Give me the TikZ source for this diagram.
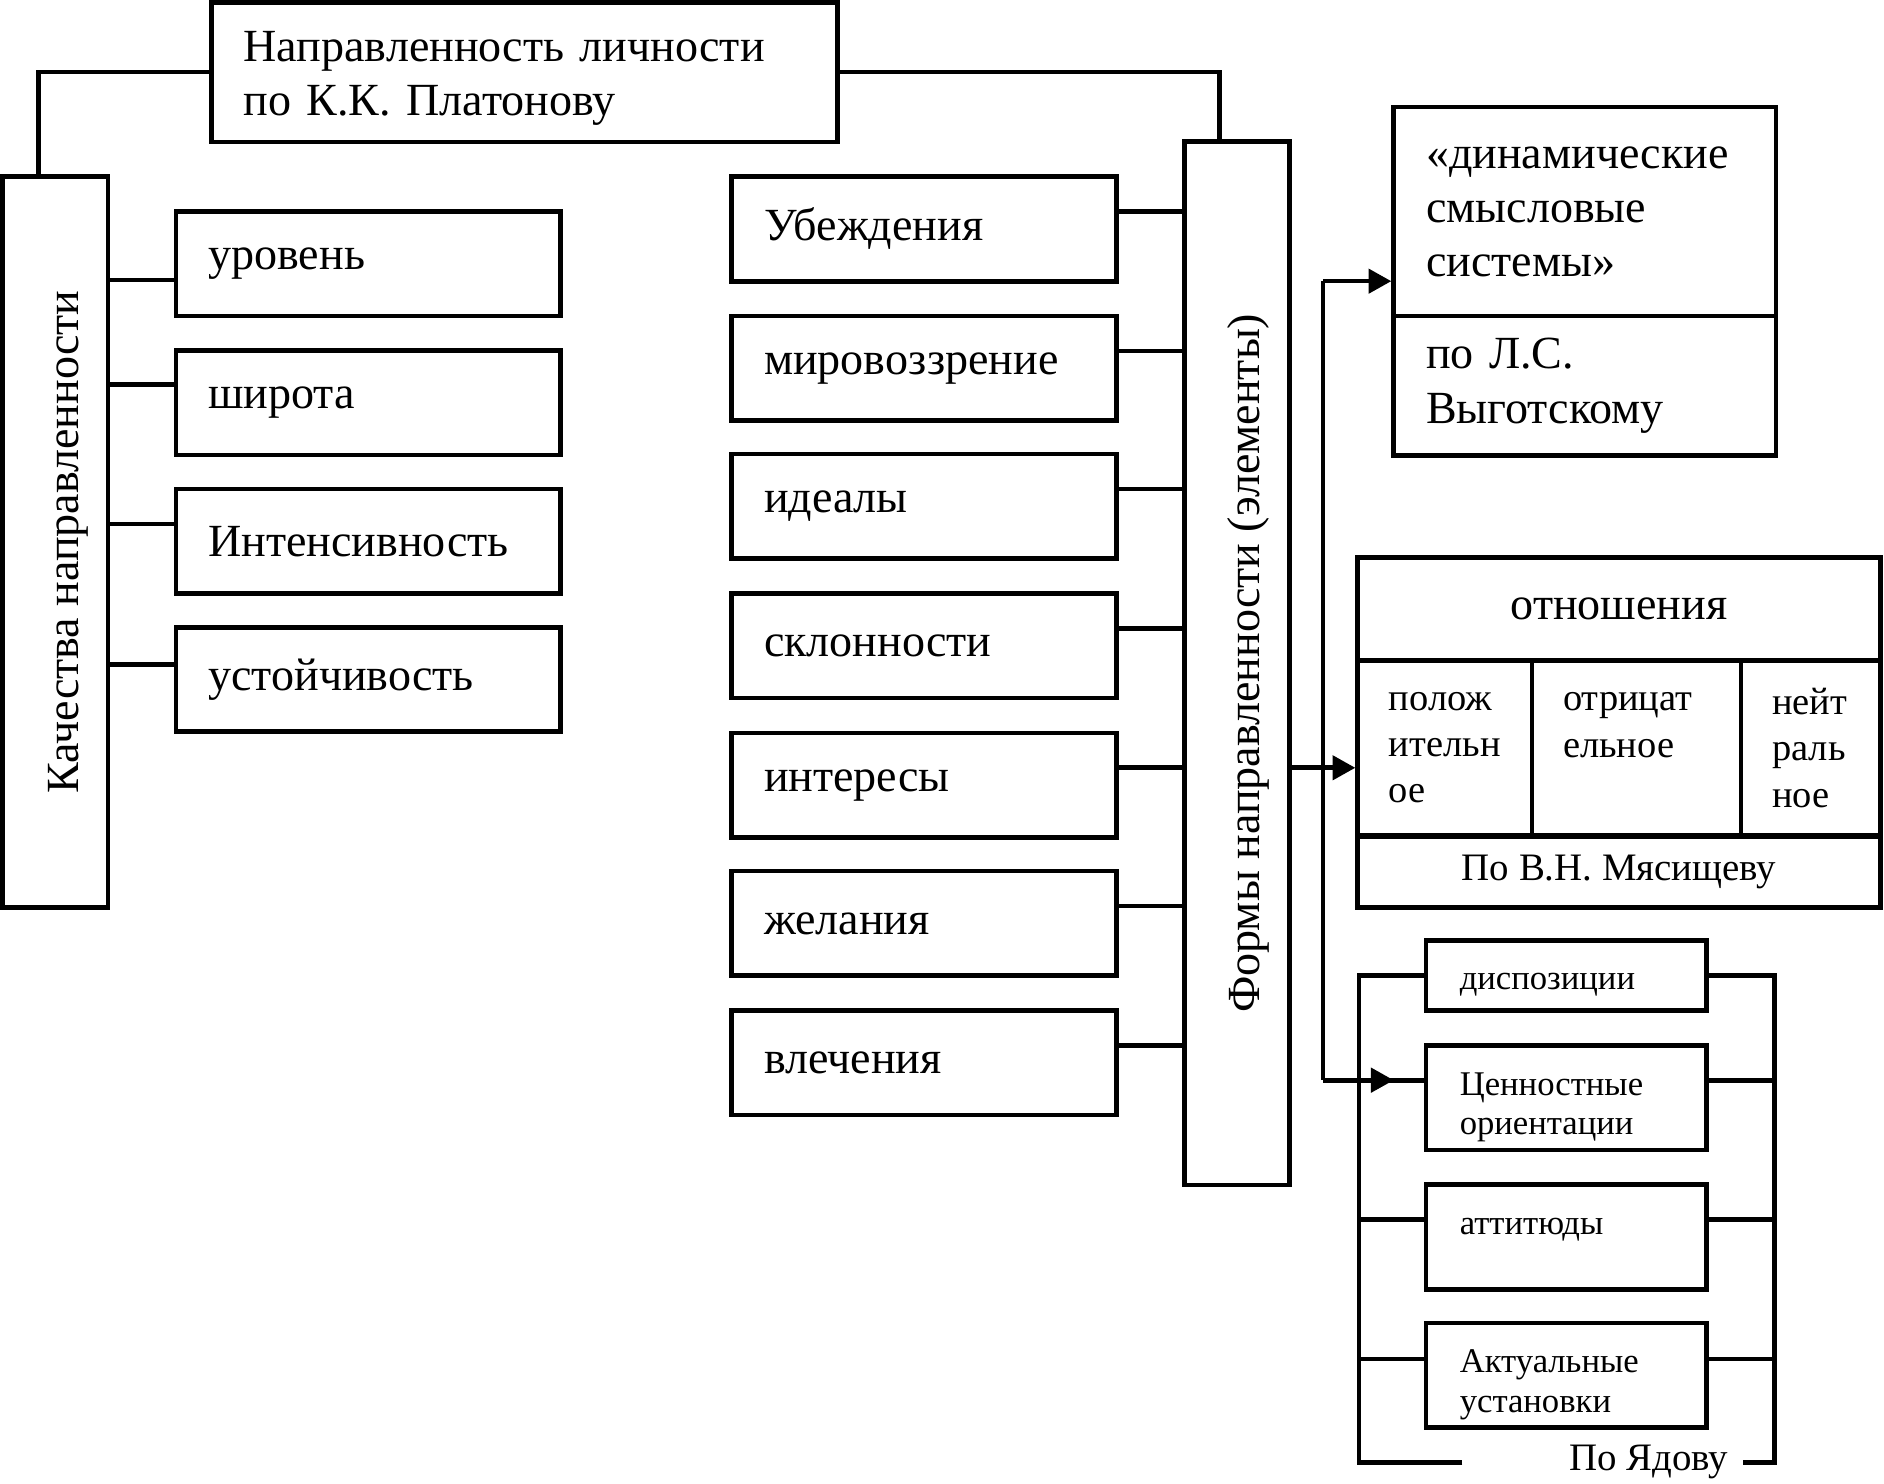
\documentclass[tikz,border=0pt]{standalone}
\usepackage{fontspec}
\setmainfont{Liberation Serif}
\usepackage{tikz}
\usetikzlibrary{arrows.meta, positioning, calc}

\begin{document}
\begin{tikzpicture}[x=0.01cm, y=-0.01cm,
    every node/.style={font=\fontsize{10.9}{12.8}\selectfont},
    box/.style={draw, line width=1.1pt, inner xsep=0.27cm, inner ysep=0pt, align=left},
    item/.style={box, text width=2.66cm, minimum height=0.87cm},
    yitem/.style={box, text width=1.77cm, inner xsep=0.28cm, minimum height=0.87cm,
      text height=5pt, text depth=6.2pt, font=\fontsize{8.2}{9.4}\selectfont},
    cell/.style={box, minimum height=1.45cm, inner xsep=0.26cm,
      font=\fontsize{9.1}{10.9}\selectfont},
    vbox/.style={draw, line width=1.1pt, rotate=90, inner sep=0pt, text depth=0pt},
    conn/.style={line width=1.1pt},
    arr/.style={conn, -{Triangle[length=0.19cm, width=0.2cm]}}]
  \useasboundingbox (0,0) rectangle (1568,1235);

  \node[box, text width=4.67cm, minimum height=1.16cm, text height=7.5pt, text depth=12.4pt] (title) at (436.5,60)
    {Направленность личности\\по К.К. Платонову};
  \node[vbox, text height=11pt, minimum width=6.08cm, minimum height=0.88cm] (kach) at (46,451) {Качества направленности};
  \node[vbox, text height=10.5pt, minimum width=8.68cm, minimum height=0.87cm] (form) at (1029.5,552) {Формы направленности (элементы)};
  \draw[conn] (title.west) -| (kach.east -| 32,0);
  \draw[conn] (title.east) -| (form.east -| 1015,0);

  \foreach \n/\y/\lbl in {ur/219.5/уровень, shir/335/широта, int/450.5/Интенсивность, ust/565.5/устойчивость}
    \node[item] (\n) at (306.5,\y) {\lbl};
  \foreach \n/\y in {ur/233, shir/320, int/436, ust/553}
    \draw[conn] (kach.south |- 0,\y) -- (\n.west |- 0,\y);

  \foreach \n/\y/\lbl in {ub/190.5/Убеждения, mir/306.5/мировоззрение, ide/421.5/идеалы, skl/537.5/склонности,
      intr/653.5/интересы, zhel/768.5/желания, vlech/884.5/влечения}
    \node[item] (\n) at (769,\y) {\lbl};
  \foreach \n/\y in {ub/176, mir/292, ide/407, skl/523, intr/639, zhel/754, vlech/870}
    \draw[conn] (\n.east |- 0,\y) -- (form.north |- 0,\y);

  \node[box, text width=2.64cm, minimum height=1.74cm] (dyn) at (1319,176)
    {«динамические\\смысловые\\системы»};
  \node[box, text width=2.64cm, minimum height=1.16cm] (vyg) at (1319,321)
    {по Л.С.\\Выготскому};

  \node[box, minimum width=4.35cm, minimum height=0.86cm, inner xsep=0pt, align=center] (otn) at (1347.5,507) {отношения};
  \node[cell, text width=0.93cm] (pol) at (1202.5,622.5) {полож\\ительн\\ое};
  \node[cell, text width=1.22cm] (otr) at (1362,622.5) {отрицат\\ельное\\\mbox{}};
  \node[cell, text width=0.64cm] (neit) at (1507,622.5) {нейт\\раль\\ное};
  \node[box, minimum width=4.35cm, minimum height=0.59cm, inner xsep=0pt, align=center,
    font=\fontsize{9.2}{11}\selectfont] (mys) at (1347.5,726) {По В.Н. Мясищеву};

  \node[yitem, minimum height=0.58cm, text height=7.2pt, text depth=0.5pt] (disp) at (1303.5,812) {диспозиции};
  \node[yitem] (cen) at (1303.5,913.5) {Ценностные\\ориентации};
  \node[yitem] (att) at (1303.5,1029.5) {аттитюды};
  \node[yitem] (akt) at (1303.5,1144.5) {Актуальные\\установки};

  \coordinate (ylt) at (1131,812);
  \coordinate (ylb) at (1131,1217);
  \coordinate (yrt) at (1477,812);
  \coordinate (yrb) at (1477,1217);
  \node[font=\fontsize{9.2}{11}\selectfont, inner xsep=0.12cm] (yadov) at (1372,1217) {По Ядову};
  \draw[conn] ([xshift=0.86cm]ylb) -- (ylb) -- (ylt) -- (disp.west |- ylt);
  \draw[conn] (disp.east |- yrt) -- (yrt) -- (yrb) -- (yadov.east |- yrb);
  \foreach \n/\y in {cen/899, att/1015, akt/1131} {
    \draw[conn] (ylt |- 0,\y) -- (\n.west |- 0,\y);
    \draw[conn] (\n.east |- 0,\y) -- (yrt |- 0,\y);
  }

  \coordinate (sp) at (1101,639);
  \coordinate (tipc) at (1160,899);
  \draw[arr] (form.south |- sp) -- (pol.west |- sp);
  \draw[conn] (sp |- 0,234) -- (sp |- tipc);
  \draw[arr] (sp |- 0,234) -- (dyn.west |- 0,234);
  \draw[arr] (sp |- tipc) -- (tipc);
\end{tikzpicture}
\end{document}
